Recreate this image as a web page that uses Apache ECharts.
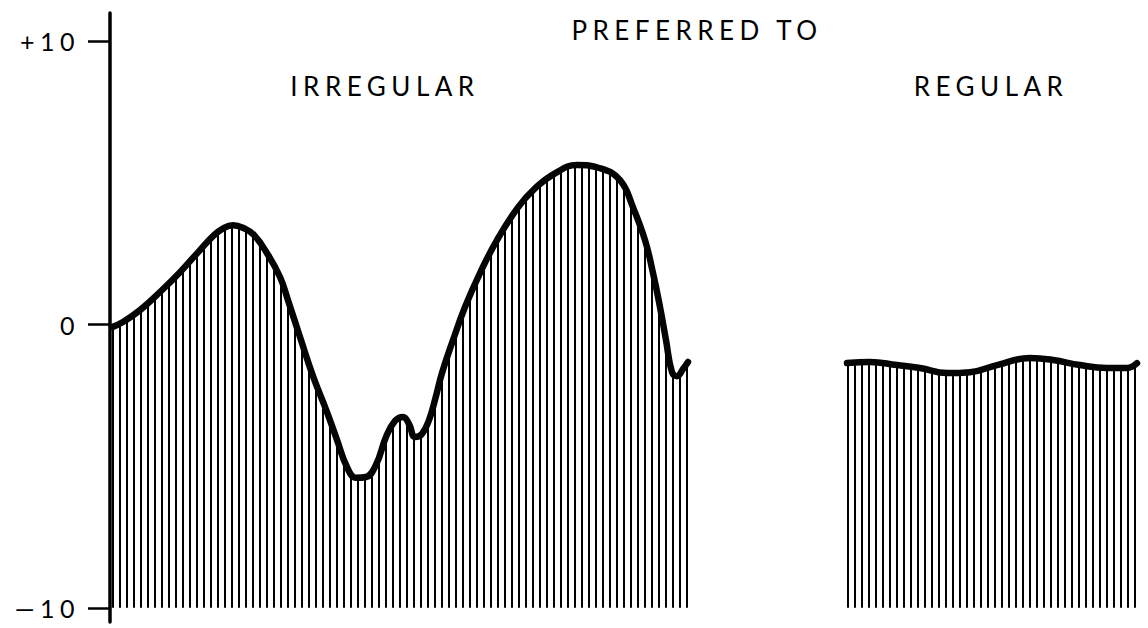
<!DOCTYPE html>
<html><head><meta charset="utf-8">
<script src="https://cdn.jsdelivr.net/npm/echarts@6/dist/echarts.min.js"></script>
<style>
html,body{margin:0;padding:0;background:#fff}
#c{width:1148px;height:628px;letter-spacing:5.5px}
</style>
</head><body><div id="c"></div><script>
// ---- data ----
const titleText = 'PREFERRED TO';
const groupLabels = ['IRREGULAR', 'REGULAR'];
const yTickValues = [-10, 0, 10];
const yTickLabels = ['—10', '0', '+10'];

const irregularX = [0.2, 1.3, 3.0, 5.0, 7.0, 9.0, 10.3, 11.2, 12.3, 13.4, 14.4, 15.7, 17.0, 17.8, 19.0, 20.3, 21.7, 22.7, 23.7, 24.6, 25.6, 26.6, 27.6, 28.5, 29.3, 29.9, 30.5, 31.2, 31.9, 32.5, 33.2, 34.3, 35.5, 37.0, 38.7, 40.8, 42.5, 44.5, 46.7, 49.0, 51.0, 52.3, 53.5, 54.3, 55.0, 55.6, 56.2, 56.7, 57.3, 57.8];
const irregularY = [-0.09, 0.09, 0.51, 1.15, 1.85, 2.63, 3.12, 3.37, 3.51, 3.40, 3.16, 2.52, 1.68, 0.86, -0.44, -1.82, -3.09, -4.07, -5.03, -5.41, -5.38, -4.95, -3.97, -3.40, -3.26, -3.51, -3.97, -3.86, -3.37, -2.66, -1.71, -0.55, 0.62, 1.82, 2.98, 4.14, 4.81, 5.34, 5.63, 5.52, 5.10, 4.14, 2.98, 1.82, 0.62, -0.55, -1.68, -1.82, -1.57, -1.32];

const regularX = [73.7, 76.0, 78.7, 81.0, 83.7, 86.0, 88.7, 92.0, 94.3, 97.0, 99.7, 101.7, 102.7];
const regularY = [-1.36, -1.32, -1.43, -1.53, -1.71, -1.68, -1.43, -1.18, -1.25, -1.43, -1.53, -1.53, -1.36];

const baseValue = -10;

// ---- hatch pattern ----
const pc = document.createElement('canvas');
pc.width = 7; pc.height = 10;
const pctx = pc.getContext('2d');
pctx.fillStyle = '#000';
pctx.fillRect(0, 0, 2, 10);
const hatch = { image: pc, repeat: 'repeat', imageWidth: 7, imageHeight: 10 };

const zip = (xs, ys) => xs.map((x, i) => [x, ys[i]]);
const font = 'Lato, "DejaVu Sans", sans-serif';

const chart = echarts.init(document.getElementById('c'), null, { renderer: 'svg' });

function curveSeries(name, xs, ys) {
  return {
    name: name,
    type: 'line',
    data: zip(xs, ys),
    smooth: 0.45,
    symbol: 'none',
    lineStyle: { color: '#050505', width: 6.5, cap: 'round', join: 'round' },
    areaStyle: { color: hatch, opacity: 1, origin: baseValue },
    silent: true,
    animation: false
  };
}

const textStyle = { fontSize: 26, fontFamily: font, fill: '#000', align: 'center', verticalAlign: 'middle' };

chart.setOption({
  animation: false,
  backgroundColor: '#fff',
  grid: { left: 110, right: 8, top: 13, bottom: 6, containLabel: false, outerBoundsMode: 'none' },
  xAxis: { type: 'value', min: 0, max: 103, show: false },
  yAxis: {
    type: 'value', min: -10.5, max: 11,
    axisLine: { show: true, onZero: false, lineStyle: { color: '#000', width: 3.5 } },
    axisTick: { show: true, customValues: yTickValues, length: 22, lineStyle: { color: '#000', width: 2.5 } },
    axisLabel: {
      show: true, customValues: yTickValues, margin: 30, fontSize: 25, color: '#000', fontFamily: font,
      formatter: v => yTickLabels[yTickValues.indexOf(Math.round(v))]
    },
    splitLine: { show: false }
  },
  graphic: [
    { type: 'text', x: 697, y: 30, silent: true, style: Object.assign({ text: titleText }, textStyle) },
    { type: 'text', x: 385, y: 86, silent: true, style: Object.assign({ text: groupLabels[0] }, textStyle) },
    { type: 'text', x: 991, y: 86, silent: true, style: Object.assign({ text: groupLabels[1] }, textStyle) }
  ],
  series: [
    curveSeries(groupLabels[0], irregularX, irregularY),
    curveSeries(groupLabels[1], regularX, regularY)
  ]
});
</script></body></html>
